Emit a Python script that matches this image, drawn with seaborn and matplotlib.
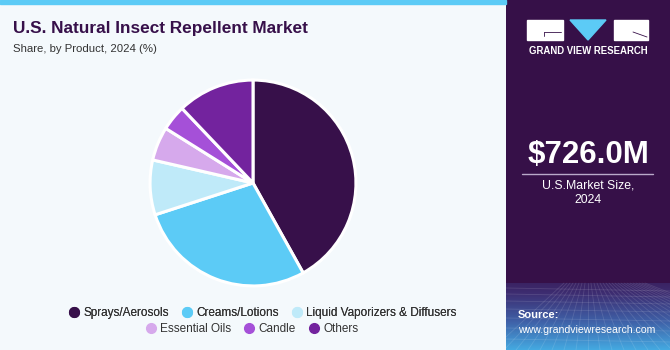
import numpy as np
import pandas as pd
import seaborn as sns
import matplotlib
matplotlib.use("Agg")
import matplotlib.pyplot as plt
from matplotlib.lines import Line2D
from matplotlib.colors import LinearSegmentedColormap

# ---- data ----
categories = ["Sprays/Aerosols", "Creams/Lotions", "Liquid Vaporizers & Diffusers",
              "Essential Oils", "Candle", "Others"]
shares = [41.9, 28.1, 8.6, 5.3, 4.0, 12.1]
colors = ["#37104a", "#5ccbf6", "#bfeaf9", "#d6a9ec", "#a550d8", "#73239e"]

title = "U.S. Natural Insect Repellent Market"
subtitle = "Share, by Product, 2024 (%)"
market_value = "$726.0M"
market_label = "U.S.Market Size,\n2024"

df = pd.DataFrame({"category": categories, "share": shares})

sns.set_theme(style="white")
plt.rcParams["font.family"] = ["Liberation Sans", "DejaVu Sans"]

W, H = 670, 350
fig = plt.figure(figsize=(6.7, 3.5), dpi=100)
bg = "#f4f9fc"
fig.patch.set_facecolor(bg)

def fx(px):
    return px / W

def fy(py):
    return 1 - py / H

# top accent bar
fig.patches.append(plt.Rectangle((0, fy(4)), fx(506), 4 / H, transform=fig.transFigure,
                                 color="#5ccbf6", zorder=1))

# ---- pie ----
cx, cy, r = 253, 183, 105
ax = fig.add_axes([fx(cx - r), fy(cy + r), 2 * r / W, 2 * r / H])
ax.pie(df["share"], colors=colors, startangle=90, counterclock=False,
       wedgeprops=dict(edgecolor="white", linewidth=2.2), radius=1)
ax.set_xlim(-1.02, 1.02)
ax.set_ylim(-1.02, 1.02)
ax.set_axis_off()

# ---- titles ----
fig.text(fx(13), fy(28), title, fontsize=12.4, fontweight="bold", color="#37104a",
         va="center", ha="left")
fig.text(fx(13), fy(49), subtitle, fontsize=8.2, color="#333333", va="center", ha="left")

# ---- legend (two centered rows) ----
def handle(c):
    return Line2D([0], [0], marker="o", linestyle="", markersize=7,
                  markerfacecolor=c, markeredgecolor=c)

row1 = fig.legend([handle(c) for c in colors[:3]], categories[:3], loc="center",
                  bbox_to_anchor=(fx(262), fy(313)), ncol=3, frameon=False,
                  fontsize=8.5, handletextpad=0.2, columnspacing=0.9, handlelength=1.2,
                  labelcolor="#333333")
row2 = fig.legend([handle(c) for c in colors[3:]], categories[3:], loc="center",
                  bbox_to_anchor=(fx(251), fy(329)), ncol=3, frameon=False,
                  fontsize=8.5, handletextpad=0.2, columnspacing=0.9, handlelength=1.2,
                  labelcolor="#333333")
fig.add_artist(row1)

# ---- right panel ----
pax = fig.add_axes([fx(506), 0, fx(164), 1])
pax.set_axis_off()
n = 350
cmap = LinearSegmentedColormap.from_list("g", ["#361048", "#3d2c70", "#3f5fa6", "#44a8e0"])
vals = np.linspace(0, 1, n)
start = 283 / 350
img = np.where(vals < start, 0.0, 0.22 + (vals - start) / (1 - start) * 0.78)
pax.imshow(img.reshape(-1, 1), aspect="auto", cmap=cmap, extent=[0, 164, 350, 0], vmin=0, vmax=1)
pax.set_xlim(0, 164)
pax.set_ylim(350, 0)
# faint grid texture at bottom
for k in range(-8, 20):
    x0 = 82 + k * 12
    pax.plot([82 + k * 3, x0], [283, 350], color="white", alpha=0.12, lw=0.6)
for yy in [288, 294, 301, 309, 318, 328, 339]:
    pax.plot([0, 164], [yy, yy + 3], color="white", alpha=0.12, lw=0.6)

# logo
pax.add_patch(plt.Rectangle((21, 20), 36, 20, color="white"))
pax.add_patch(plt.Polygon([[64, 20], [100, 20], [82, 40]], color="#5ccbf6"))
pax.add_patch(plt.Rectangle((108, 20), 34, 20, color="white"))
pax.plot([38, 55], [32, 32], color="#361048", lw=0.6)
pax.plot([38, 38], [32, 36], color="#361048", lw=0.6)
pax.plot([127, 141], [32, 37], color="#361048", lw=0.6)
pax.text(82, 51, "GRAND VIEW RESEARCH", color="white", fontsize=6.9, fontweight="bold",
         ha="center", va="center")

pax.text(82, 155, market_value, color="white", fontsize=22.5, fontweight="bold",
         ha="center", va="center")
pax.plot([16, 147], [173.5, 173.5], color="#b9a9c9", lw=1)
pax.text(82, 193, market_label, color="white", fontsize=8.8, ha="center", va="center",
         linespacing=1.3)
pax.text(12, 315, "Source:", color="white", fontsize=8, fontweight="bold", ha="left", va="center")
pax.text(12, 330, "www.grandviewresearch.com", color="white", fontsize=7.6, ha="left", va="center")

fig.savefig("out.png", dpi=100, facecolor=fig.get_facecolor())
